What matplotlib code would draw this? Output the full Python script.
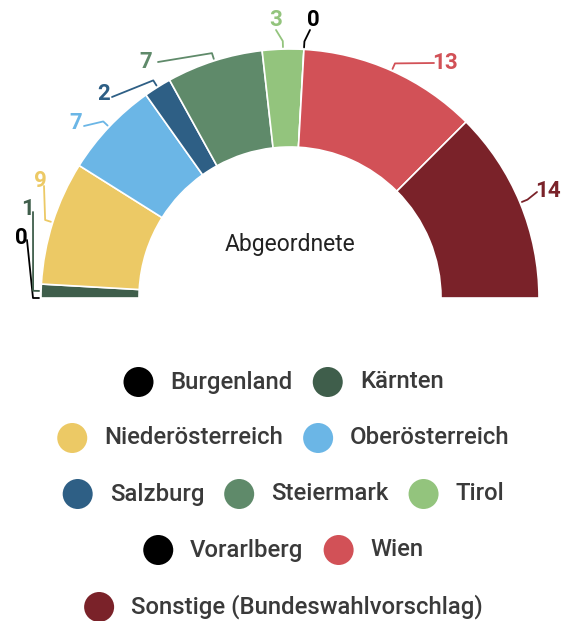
import numpy as np
import matplotlib
matplotlib.use("Agg")
import matplotlib.pyplot as plt

plt.rcParams['font.family'] = ['Roboto', 'DejaVu Sans']

# ---- data ----
regions = ["Burgenland", "Kärnten", "Niederösterreich", "Oberösterreich", "Salzburg",
           "Steiermark", "Tirol", "Vorarlberg", "Wien", "Sonstige (Bundeswahlvorschlag)"]
seats = [0, 1, 9, 7, 2, 7, 3, 0, 13, 14]
colors = ["#000000", "#3f5e4b", "#ecc965", "#6bb6e6", "#2e5f85",
          "#5f8a6a", "#93c47d", "#000000", "#d25157", "#7a2229"]
center_label = "Abgeordnete"
legend_rows = [[0, 1], [2, 3], [4, 5, 6], [7, 8], [9]]

# ---- layout (pixel coords, y from top) ----
W, H = 567, 621
cx, cy = 290, 298
r_out, r_in = 249, 151
label_pos = [(21, 238), (28, 209), (40, 181), (76, 123), (104, 94),
             (146, 62), (276, 20), (313, 20), (445, 63), (548, 191)]
label_anchor = [(27, 240), (33, 212), (44, 186), (84, 126), (112, 97),
                (158, 62), (276, 30), (310, 30), (434, 63), (537, 192)]
legend_y = [382, 438, 494, 550, 607]

fig = plt.figure(figsize=(W / 100, H / 100), dpi=100)
ax = fig.add_axes([0, 0, 1, 1])

total = sum(seats)
ax.pie(seats + [total], colors=colors + ["none"], startangle=180, counterclock=False,
       radius=r_out, center=(cx, H - cy),
       wedgeprops=dict(width=r_out - r_in, edgecolor="white", linewidth=1.2))
# hide the dummy half
ax.patches[-1].set_visible(False)
ax.set_xlim(0, W)
ax.set_ylim(0, H)
ax.set_aspect("equal")
ax.axis("off")

ax.text(cx, H - 245, center_label, ha="center", va="center", fontsize=16.5,
        color="#222222", fontweight="normal")

# labels with leader lines
cum = np.cumsum([0] + seats)
for i, v in enumerate(seats):
    a0 = 180 - cum[i] / total * 180
    a1 = 180 - cum[i + 1] / total * 180
    am = np.deg2rad((a0 + a1) / 2)
    px = cx + (r_out + 2) * np.cos(am)
    py = cy - (r_out + 2) * np.sin(am)
    ex = cx + (r_out + 8) * np.cos(am)
    ey = cy - (r_out + 8) * np.sin(am)
    lx, ly = label_anchor[i]
    ax.plot([px, ex, lx], [H - py, H - ey, H - ly], color=colors[i], lw=1.3,
            solid_capstyle="round")
    tx, ty = label_pos[i]
    ax.text(tx, H - ty, str(v), ha="center", va="center", fontsize=16,
            color=colors[i], fontweight="bold")

# legend
fig.canvas.draw()
renderer = fig.canvas.get_renderer()
gap_text = 32
gap_item = 20
circ_r = 15
for row, y in zip(legend_rows, legend_y):
    texts = []
    widths = []
    for idx in row:
        t = ax.text(0, H - y, regions[idx], ha="left", va="center", fontsize=17.2,
                    color="#3a3a3a", fontweight="medium")
        bb = t.get_window_extent(renderer)
        texts.append(t)
        widths.append(bb.width)
    total_w = sum(circ_r + gap_text + w for w in widths) + gap_item * (len(row) - 1)
    x = W / 2 - total_w / 2
    for t, w, idx in zip(texts, widths, row):
        ccx = x + circ_r
        ax.scatter([ccx], [H - y], s=(2 * circ_r * 0.72) ** 2, color=colors[idx],
                   edgecolors="none", zorder=3)
        t.set_x(ccx + gap_text)
        x = ccx + gap_text + w + gap_item

fig.savefig("out.png", dpi=100)
